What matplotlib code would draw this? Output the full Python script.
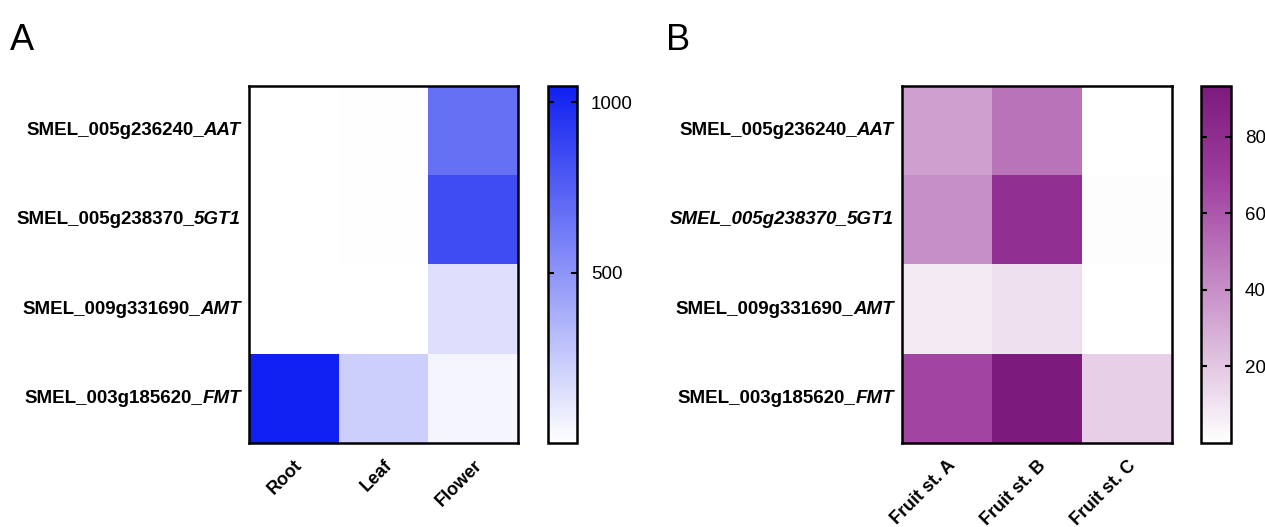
import numpy as np
import matplotlib
matplotlib.use("Agg")
import matplotlib.pyplot as plt
from matplotlib.colors import LinearSegmentedColormap
import matplotlib.transforms as mtransforms

plt.rcParams['font.family'] = ['Liberation Sans', 'DejaVu Sans']

# ---- data ----
gene_ids = ["SMEL_005g236240_", "SMEL_005g238370_", "SMEL_009g331690_", "SMEL_003g185620_"]
gene_names = ["AAT", "5GT1", "AMT", "FMT"]
tissues_a = ["Root", "Leaf", "Flower"]
tissues_b = ["Fruit st. A", "Fruit st. B", "Fruit st. C"]

# rows: genes; columns: tissues
expr_aat_a = [2, 5, 670]
expr_5gt1_a = [1, 5, 835]
expr_amt_a = [0, 1, 150]
expr_fmt_a = [1047, 223, 48]

expr_aat_b = [34, 50, 0.2]
expr_5gt1_b = [40, 79, 0.6]
expr_amt_b = [7.5, 11, 0.1]
expr_fmt_b = [67, 93, 17]

cbar_ticks_a = [500, 1000]
cbar_ticks_b = [20, 40, 60, 80]
vmax_a = 1047
vmax_b = 93.3

data_a = np.array([expr_aat_a, expr_5gt1_a, expr_amt_a, expr_fmt_a])
data_b = np.array([expr_aat_b, expr_5gt1_b, expr_amt_b, expr_fmt_b])

cmap_a = LinearSegmentedColormap.from_list("wb", ["#ffffff", "#1020f0"])
cmap_b = LinearSegmentedColormap.from_list(
    "wp", [(0.0, "#ffffff"), (0.25, "#debede"), (0.5, "#be7dbe"),
           (0.75, "#9e3c9e"), (1.0, "#7d1a7d")])

fig = plt.figure(figsize=(12.65, 5.27), dpi=100)
W, H = 1265, 527

def fx(px):
    return px / W

def fy(py):
    return 1 - py / H

ax_a = fig.add_axes([fx(249), fy(443), fx(518 - 249), (443 - 86) / H])
cax_a = fig.add_axes([fx(548), fy(443), fx(577 - 548), (443 - 86) / H])
ax_b = fig.add_axes([fx(902), fy(443), fx(1172 - 902), (443 - 86) / H])
cax_b = fig.add_axes([fx(1201), fy(443), fx(1231 - 1201), (443 - 86) / H])

LABEL_FS = 13.5

def gene_labels(ax, italic_all_rows):
    trans = ax.get_yaxis_transform() + mtransforms.ScaledTranslation(-8 / 100, 0, fig.dpi_scale_trans)
    for i, (gid, gname) in enumerate(zip(gene_ids, gene_names)):
        t_it = ax.text(0, i, gname, transform=trans, ha='right', va='center',
                       fontsize=LABEL_FS, fontweight='bold', fontstyle='italic')
        style = 'italic' if i in italic_all_rows else 'normal'
        ax.annotate(gid, xy=(0, 0.5), xycoords=t_it, ha='right', va='center',
                    fontsize=LABEL_FS, fontweight='bold', fontstyle=style)

def draw(ax, cax, data, cmap, vmax, xlabels, cticks, italic_rows):
    im = ax.imshow(data, cmap=cmap, vmin=0, vmax=vmax, aspect='auto',
                   interpolation='nearest')
    ax.set_xticks(range(len(xlabels)))
    ax.set_xticklabels(xlabels, rotation=45, ha='right', rotation_mode='anchor',
                       fontsize=13, fontweight='bold')
    ax.set_yticks(range(len(gene_ids)))
    ax.set_yticklabels([])
    ax.tick_params(length=0)
    ax.tick_params(axis='x', pad=10)
    for s in ax.spines.values():
        s.set_linewidth(1.8)
    gene_labels(ax, italic_rows)
    cb = fig.colorbar(im, cax=cax, ticks=cticks)
    cb.outline.set_linewidth(1.8)
    cax.yaxis.set_ticks_position('both')
    cax.tick_params(direction='in', length=4, width=1.5, labelsize=13.5, pad=10,
                    labelleft=False, labelright=True)
    return cb

draw(ax_a, cax_a, data_a, cmap_a, vmax_a, tissues_a, cbar_ticks_a, [])
draw(ax_b, cax_b, data_b, cmap_b, vmax_b, tissues_b, cbar_ticks_b, [1])

fig.text(fx(10), fy(50), "A", fontsize=26)
fig.text(fx(666), fy(50), "B", fontsize=26)

fig.savefig("out.png", dpi=100)
